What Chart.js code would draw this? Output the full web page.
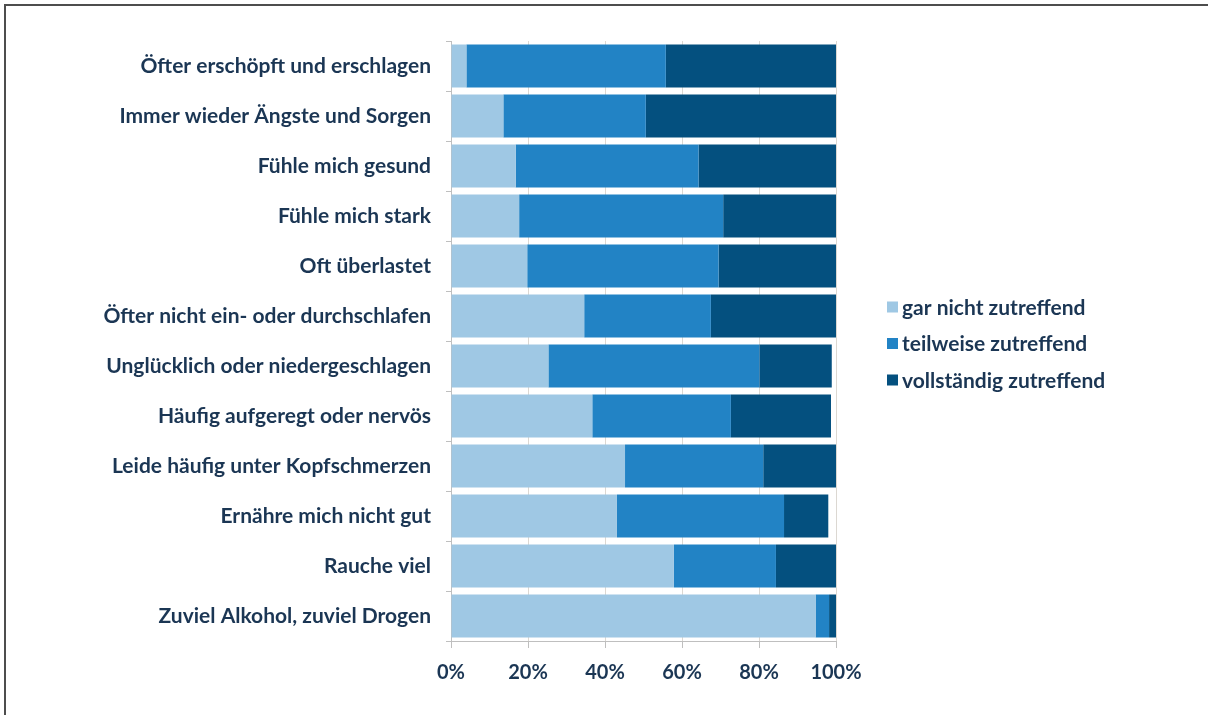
<!DOCTYPE html>
<html lang="de">
<head>
<meta charset="utf-8">
<title>Befinden</title>
<script src="https://cdn.jsdelivr.net/npm/chart.js@4.4.1/dist/chart.umd.min.js"></script>
<style>
  html, body { margin: 0; padding: 0; background: #ffffff; }
  #wrap { position: relative; width: 1208px; height: 715px; overflow: hidden; }
  #frameTop { position: absolute; left: 4px; top: 4px; width: 1204px; height: 2px; background: #4d4d4d; }
  #frameLeft { position: absolute; left: 4px; top: 4px; width: 2px; height: 711px; background: #4d4d4d; }
  canvas { position: absolute; left: 0; top: 0; }
</style>
</head>
<body>
<div id="wrap">
  <canvas id="chart" width="1208" height="715"></canvas>
  <div id="frameTop"></div>
  <div id="frameLeft"></div>
</div>
<script>
// Aussagen (von oben nach unten)
const categories = [
  'Öfter erschöpft und erschlagen',
  'Immer wieder Ängste und Sorgen',
  'Fühle mich gesund',
  'Fühle mich stark',
  'Oft überlastet',
  'Öfter nicht ein- oder durchschlafen',
  'Unglücklich oder niedergeschlagen',
  'Häufig aufgeregt oder nervös',
  'Leide häufig unter Kopfschmerzen',
  'Ernähre mich nicht gut',
  'Rauche viel',
  'Zuviel Alkohol, zuviel Drogen'
];

const seriesNames = ['gar nicht zutreffend', 'teilweise zutreffend', 'vollständig zutreffend'];

// Anteile in Prozent
const garNicht     = [4.0, 13.6, 16.8, 17.7, 19.8, 34.6, 25.3, 36.7, 45.2, 43.1, 57.9, 94.7];
const teilweise    = [51.8, 37.0, 47.5, 53.0, 49.7, 32.9, 54.8, 36.0, 35.9, 43.4, 26.5, 3.5];
const vollstaendig = [44.2, 49.4, 35.7, 29.3, 30.5, 32.5, 18.8, 26.0, 18.9, 11.5, 15.6, 1.8];

const xTicks = [0, 20, 40, 60, 80, 100];

const colors = ['#9fc8e4', '#2283c5', '#04507f'];
const textColor = '#1b3654';
const labelFont = { family: 'Lato', size: 21, weight: '700' };
const tickFont = { family: 'Lato', size: 20, weight: '700' };

// Legende rechts neben dem Diagramm
const sideLegend = {
  id: 'sideLegend',
  afterDraw(chart) {
    const ctx = chart.ctx;
    const x = 887, rows = [307, 343.5, 380];
    ctx.save();
    ctx.font = '700 21px Lato';
    ctx.textBaseline = 'middle';
    ctx.textAlign = 'left';
    chart.data.datasets.forEach((ds, i) => {
      const y = rows[i];
      ctx.fillStyle = ds.backgroundColor;
      ctx.fillRect(x, y - 5.5, 11, 11);
      ctx.fillStyle = textColor;
      ctx.fillText(ds.label, x + 15, y + 1);
    });
    ctx.restore();
  }
};

new Chart(document.getElementById('chart'), {
  type: 'bar',
  data: {
    labels: categories,
    datasets: [
      { label: seriesNames[0], data: garNicht, backgroundColor: colors[0] },
      { label: seriesNames[1], data: teilweise, backgroundColor: colors[1] },
      { label: seriesNames[2], data: vollstaendig, backgroundColor: colors[2] }
    ]
  },
  options: {
    indexAxis: 'y',
    responsive: false,
    devicePixelRatio: 1,
    animation: false,
    categoryPercentage: 0.86,
    barPercentage: 1.0,
    layout: { padding: { top: 41, right: 372, bottom: 0, left: 0 } },
    plugins: {
      legend: { display: false },
      tooltip: { enabled: false }
    },
    scales: {
      x: {
        stacked: true,
        min: 0,
        max: 100,
        afterBuildTicks(scale) { scale.ticks = xTicks.map(v => ({ value: v })); },
        afterFit(scale) { scale.height = 74; },
        grid: { color: '#dcd8d2', tickLength: 7, tickColor: '#bfbfbf' },
        border: { color: '#bfbfbf' },
        ticks: {
          color: textColor,
          font: tickFont,
          padding: 13,
          callback: v => v + '%'
        }
      },
      y: {
        stacked: true,
        afterFit(scale) { scale.width = 451; },
        grid: { drawOnChartArea: false, tickLength: 5, color: '#bfbfbf', offset: true },
        border: { color: '#bfbfbf' },
        ticks: { color: textColor, font: labelFont, padding: 15 }
      }
    }
  },
  plugins: [sideLegend]
});
</script>
</body>
</html>
